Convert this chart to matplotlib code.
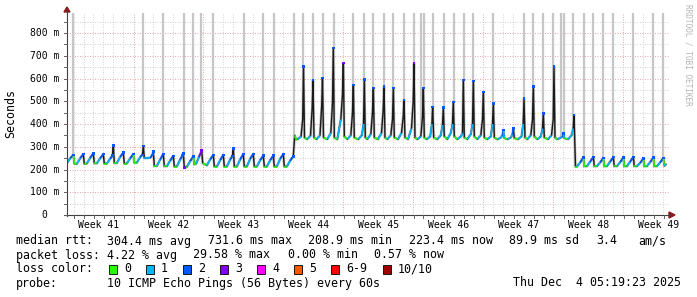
import numpy as np
import matplotlib
matplotlib.use('Agg')
import matplotlib.pyplot as plt
from matplotlib.collections import LineCollection
from matplotlib.lines import Line2D
from matplotlib.patches import Polygon, Rectangle
from matplotlib.transforms import offset_copy

W, H = 697, 297
MONO = 'DejaVu Sans Mono'

# median rtt in ms, time in days since left edge of the graph
# weeks 41-44: daily sawtooth ~215-270 ms
t_saw1 = [0.00, 0.33, 0.63, 0.73,  0.98, 1.33, 1.63, 1.73,  1.98, 2.33, 2.63, 2.73,
          2.98, 3.33, 3.63, 3.73,  3.98, 4.33, 4.55, 4.63, 4.73,  4.98, 5.33, 5.63, 5.73,
          5.98, 6.33, 6.63, 6.73,  6.98, 7.33, 7.55, 7.63, 7.73,  7.98, 8.33, 8.55, 8.63, 8.73,
          8.98, 9.33, 9.63, 9.73,  9.98, 10.33, 10.63, 10.73,  10.98, 11.33, 11.55, 11.63, 11.73,
          11.98, 12.33, 12.63, 12.73,  12.90, 13.20, 13.47, 13.57,  13.98, 14.33, 14.63, 14.73,
          14.98, 15.33, 15.63, 15.73,  15.98, 16.33, 16.55, 16.63, 16.73,  16.98, 17.33, 17.63, 17.73,
          17.98, 18.33, 18.63, 18.73,  18.98, 19.33, 19.63, 19.73,  19.98, 20.33, 20.63, 20.73,
          20.98, 21.33, 21.63, 21.73,  21.98, 22.33, 22.63, 22.77]
ms_saw1 = [229, 250, 264, 226,  225, 250, 268, 225,  226, 252, 271, 227,
           227, 250, 267, 226,  226, 248, 262, 305, 228,  228, 256, 274, 226,
           226, 250, 268, 230,  230, 255, 265, 304, 250,  250, 252, 265, 279, 215,
           215, 245, 268, 214,  214, 240, 260, 213,  213, 245, 262, 271, 209,
           211, 238, 257, 222,  225, 255, 283, 228,  218, 245, 264, 213,
           213, 242, 264, 213,  213, 245, 260, 293, 213,  213, 245, 268, 213,
           213, 248, 268, 213,  213, 242, 261, 213,  213, 242, 261, 213,
           213, 248, 267, 213,  213, 240, 258, 350]
loss_saw1 = [0, 1, 2, 0,  0, 1, 2, 0,  0, 1, 2, 0,
             0, 1, 2, 0,  0, 1, 2, 2, 0,  0, 1, 2, 0,
             0, 1, 2, 0,  0, 1, 2, 2, 1,  1, 1, 2, 2, 0,
             0, 1, 2, 0,  0, 1, 2, 0,  0, 1, 2, 2, 3,
             0, 1, 2, 0,  0, 1, 3, 1,  0, 1, 2, 0,
             0, 1, 2, 0,  0, 1, 2, 2, 0,  0, 1, 2, 0,
             0, 1, 2, 0,  0, 1, 2, 0,  0, 1, 2, 0,
             0, 1, 2, 0,  0, 1, 2, 1]

# weeks 44-48: ~333 ms baseline with daily spikes
t_spk = [22.90,
         23.05, 23.40, 23.57, 23.65, 23.75,  24.00, 24.35, 24.52, 24.60, 24.70,
         24.95, 25.30, 25.47, 25.55, 25.65,  26.03, 26.38, 26.55, 26.63, 26.73,
         27.03, 27.38, 27.55, 27.63, 27.73,  28.03, 28.38, 28.55, 28.63, 28.73,
         29.13, 29.48, 29.65, 29.73, 29.83,  30.03, 30.38, 30.55, 30.63, 30.73,
         31.10, 31.45, 31.62, 31.70, 31.80,  32.03, 32.38, 32.55, 32.63, 32.73,
         33.10, 33.45, 33.62, 33.70, 33.80,  34.10, 34.45, 34.62, 34.70, 34.80,
         35.03, 35.38, 35.55, 35.63, 35.73,  35.97, 36.32, 36.49, 36.57, 36.67,
         37.03, 37.38, 37.55, 37.63, 37.73,  38.03, 38.38, 38.55, 38.63, 38.73,
         39.03, 39.38, 39.55, 39.63, 39.73,  40.03, 40.38, 40.55, 40.63, 40.73,
         41.03, 41.38, 41.55, 41.63, 41.73,  42.03, 42.38, 42.55, 42.63, 42.73,
         43.03, 43.38, 43.55, 43.63, 43.73,  44.03, 44.38, 44.55, 44.63, 44.73,
         45.10, 45.45, 45.62, 45.70, 45.80,  46.03, 46.38, 46.55, 46.63, 46.73,
         47.03, 47.38, 47.55, 47.63, 47.73,  48.10, 48.45, 48.62, 48.70, 48.80,
         49.03, 49.38, 49.55, 49.63, 49.73,  50.10, 50.45, 50.62, 50.70, 50.85]
ms_spk = [332,
          333, 345, 420, 652, 340,  333, 348, 470, 593, 340,
          333, 350, 480, 601, 340,  333, 360, 492, 733, 340,
          333, 420, 530, 667, 345,  333, 350, 450, 571, 340,
          333, 350, 400, 596, 340,  333, 355, 450, 557, 340,
          333, 360, 462, 564, 340,  333, 350, 420, 557, 340,
          333, 360, 432, 505, 340,  333, 380, 500, 667, 340,
          333, 345, 430, 557, 340,  333, 345, 400, 476, 340,
          333, 350, 396, 472, 345,  333, 360, 400, 498, 345,
          333, 345, 360, 593, 340,  333, 355, 400, 590, 345,
          333, 350, 420, 542, 340,  333, 345, 400, 491, 340,
          333, 340, 350, 374, 338,  333, 340, 355, 381, 338,
          333, 345, 400, 513, 340,  333, 350, 420, 564, 345,
          333, 345, 380, 447, 340,  333, 350, 420, 652, 340,
          333, 340, 345, 359, 338,  333, 350, 380, 440, 212]
loss_spk = [0,
            0, 1, 1, 2, 1,  0, 1, 1, 2, 1,
            0, 1, 1, 2, 1,  0, 1, 1, 2, 1,
            0, 1, 1, 3, 1,  0, 1, 1, 2, 1,
            0, 1, 1, 2, 1,  0, 1, 1, 2, 1,
            0, 1, 1, 2, 1,  0, 1, 1, 2, 1,
            0, 1, 1, 2, 1,  0, 1, 1, 3, 1,
            0, 1, 1, 2, 1,  0, 1, 1, 2, 1,
            0, 1, 1, 2, 1,  0, 1, 1, 2, 1,
            0, 1, 1, 2, 1,  0, 1, 1, 2, 1,
            0, 1, 1, 2, 1,  0, 1, 1, 2, 1,
            0, 1, 1, 2, 1,  0, 1, 1, 2, 1,
            0, 1, 1, 2, 1,  0, 1, 1, 2, 1,
            0, 1, 1, 2, 1,  0, 1, 1, 2, 1,
            0, 1, 1, 2, 1,  0, 1, 1, 2, 0]

# weeks 48-49: sawtooth again ~212-255 ms
t_saw2 = [50.98, 51.33, 51.63, 51.73,  51.98, 52.33, 52.63, 52.73,  52.98, 53.33, 53.63, 53.73,
          53.98, 54.33, 54.63, 54.73,  54.98, 55.33, 55.63, 55.73,  55.98, 56.33, 56.63, 56.73,
          56.98, 57.33, 57.63, 57.73,  57.98, 58.33, 58.63, 58.73,  58.98, 59.33, 59.63, 59.73, 59.90]
ms_saw2 = [212, 232, 252, 214,  214, 235, 255, 214,  214, 232, 250, 214,
           214, 235, 254, 214,  214, 233, 252, 214,  214, 235, 255, 214,
           214, 230, 248, 214,  214, 233, 252, 214,  214, 232, 250, 216, 223]
loss_saw2 = [0, 1, 2, 0,  0, 1, 2, 0,  0, 1, 2, 0,
             0, 1, 2, 0,  0, 1, 2, 0,  0, 1, 2, 0,
             0, 1, 2, 0,  0, 1, 2, 0,  0, 1, 2, 0, 1]

# times (days) where some pings went off the top of the graph
offscale_days = [0.6, 7.6, 9.6, 11.7, 12.6, 13.4, 14.6, 17.7, 19.6, 20.7, 22.7,
                 23.6, 24.6, 25.6, 26.7, 28.6, 29.7, 30.6, 31.7, 32.6, 33.7, 34.7,
                 35.4, 35.7, 36.6, 37.7, 38.7, 39.7, 40.6, 42.6, 45.7, 46.6, 47.6,
                 48.6, 49.4, 49.7, 50.6, 51.7, 52.6, 53.6, 54.6, 56.6, 58.6, 59.6]

week_names = ['Week 41', 'Week 42', 'Week 43', 'Week 44', 'Week 45',
              'Week 46', 'Week 47', 'Week 48', 'Week 49']
ytick_vals = [0, 100, 200, 300, 400, 500, 600, 700, 800]
ytick_text = ['0', '100 m', '200 m', '300 m', '400 m', '500 m', '600 m', '700 m', '800 m']

loss_labels = ['0', '1', '2', '3', '4', '5', '6-9', '10/10']
loss_hex = ['#26ff00', '#00b8ff', '#0059ff', '#7e00ff', '#ff00ff', '#ff5500', '#ff0000', '#a10000']

t = np.array(t_saw1 + t_spk + t_saw2)
ms = np.array(ms_saw1 + ms_spk + ms_saw2, dtype=float)
loss = np.array(loss_saw1 + loss_spk + loss_saw2)


def fx(x): return x / W
def fy(y): return 1 - y / H


fig = plt.figure(figsize=(W / 100, H / 100), dpi=100)
fig.patch.set_facecolor('white')
ax = fig.add_axes([fx(67), fy(215), 602 / W, 202 / H])
ax.set_xlim(0, 60.2)
ax.set_ylim(0, 888)
for s in ax.spines.values(): s.set_visible(False)

dot = (0, (1, 1.5))
# grid
for d in np.arange(0.65, 60.2, 1.0):
    if abs((d - 6.65) / 7 - round((d - 6.65) / 7)) > 1e-6:
        ax.axvline(d, color='#d2d2d2', lw=0.72, ls=dot, zorder=0)
for d in np.arange(6.65, 60.2, 7.0):
    ax.axvline(d, color='#e6aaaa', lw=0.72, ls=dot, zorder=0)
for v in np.arange(50, 888, 100):
    ax.axhline(v, color='#d2d2d2', lw=0.72, ls=dot, zorder=0)
for v in ytick_vals[1:]:
    ax.axhline(v, color='#e6aaaa', lw=0.72, ls=dot, zorder=0)

# off-scale smoke bars
bottoms = np.interp(offscale_days, t, ms)
ax.vlines(offscale_days, bottoms, 888, color='#c6c6c6', lw=1.6, zorder=1)

# smoke around the median
ax.plot(t, ms, color='#bcbcbc', lw=1.9, zorder=2, solid_capstyle='butt')
ax.plot(t, ms, color='#1a1a1a', lw=1.0, zorder=3)

# coloured median where the line is not a steep jump
pts = np.column_stack([t, ms])
segs, cols = [], []
for i in range(len(t) - 1):
    slope = abs(ms[i + 1] - ms[i]) / (t[i + 1] - t[i])
    if slope < 400:
        segs.append([pts[i], pts[i + 1]])
        cols.append(loss_hex[min(loss[i + 1], 7)])
ax.add_collection(LineCollection(segs, colors=cols, linewidths=1.2, zorder=4))
tips = loss >= 2
ax.scatter(t[tips], ms[tips], s=3, marker='s', c=[loss_hex[l] for l in loss[tips]],
           linewidths=0, zorder=5)

# ticks
ax.set_xticks([])
ax.set_yticks([])
ytr = offset_copy(ax.get_yaxis_transform(), fig=fig, x=-8, y=0, units='dots')
ytr0 = offset_copy(ax.get_yaxis_transform(), fig=fig, x=-20, y=0, units='dots')
for v, s in zip(ytick_vals, ytick_text):
    ax.text(0, v, s, transform=ytr0 if v == 0 else ytr, ha='right', va='center',
            fontsize=7, family=MONO)
xtr = offset_copy(ax.get_xaxis_transform(), fig=fig, x=0, y=-10, units='dots')
for i, name in enumerate(week_names):
    ax.text(3.15 + 7 * i, 0, name, transform=xtr, ha='center', va='center',
            fontsize=7, family=MONO)

# axes lines and arrows
fig.add_artist(Line2D([fx(67), fx(67)], [fy(216), fy(10)], color='#404040', lw=0.8))
fig.add_artist(Line2D([fx(64), fx(670)], [fy(215), fy(215)], color='#404040', lw=0.8))
for y in np.arange(215, 12, -22.75 / 2):
    fig.add_artist(Line2D([fx(64), fx(67)], [fy(y), fy(y)], color='#606060', lw=0.7))
for x in np.arange(73.5, 669, 10):
    fig.add_artist(Line2D([fx(x), fx(x)], [fy(215), fy(218)], color='#606060', lw=0.7))
fig.add_artist(Polygon([[fx(64), fy(12)], [fx(70), fy(12)], [fx(67), fy(7)]],
                       closed=True, color='#8b1a1a'))
fig.add_artist(Polygon([[fx(669), fy(212)], [fx(669), fy(218)], [fx(675), fy(215)]],
                       closed=True, color='#8b1a1a'))

# labels
fig.text(fx(11), fy(114), 'Seconds', rotation=90, ha='center', va='center',
         fontsize=8.4, family=MONO)
fig.text(fx(688), fy(4), 'RRDTOOL / TOBI OETIKER', rotation=270, ha='center', va='top',
         fontsize=5.6, family=MONO, color='#b4b4b4')

lt = dict(fontsize=8.4, family=MONO, va='center', ha='left')
row1 = [(16, 'median rtt:'), (107, '304.4 ms avg'), (208, '731.6 ms max'), (308, '208.9 ms min'),
        (409, '223.4 ms now'), (509, '89.9 ms sd'), (596, '3.4'), (638, 'am/s')]
row2 = [(16, 'packet loss:'), (107, '4.22 % avg'), (193, '29.58 % max'), (288, '0.00 % min'),
        (374, '0.57 % now')]
for x, s in row1: fig.text(fx(x), fy(241), s, **lt)
for x, s in row2: fig.text(fx(x), fy(255), s, **lt)
fig.text(fx(16), fy(269), 'loss color:', **lt)
box_x = [109, 146, 183, 220, 257, 294, 331, 383]
for bx, c, s in zip(box_x, loss_hex, loss_labels):
    fig.add_artist(Rectangle((fx(bx), fy(274)), 8 / W, 9 / H, facecolor=c,
                             edgecolor='black', lw=0.6))
    fig.text(fx(bx + 15), fy(269), s, **lt)
fig.text(fx(16), fy(283), 'probe:', **lt)
fig.text(fx(107), fy(283), '10 ICMP Echo Pings (56 Bytes) every 60s', **lt)
fig.text(fx(681), fy(283), 'Thu Dec  4 05:19:23 2025', fontsize=8.4, family=MONO,
         va='center', ha='right')

fig.savefig('out.png', dpi=100)
